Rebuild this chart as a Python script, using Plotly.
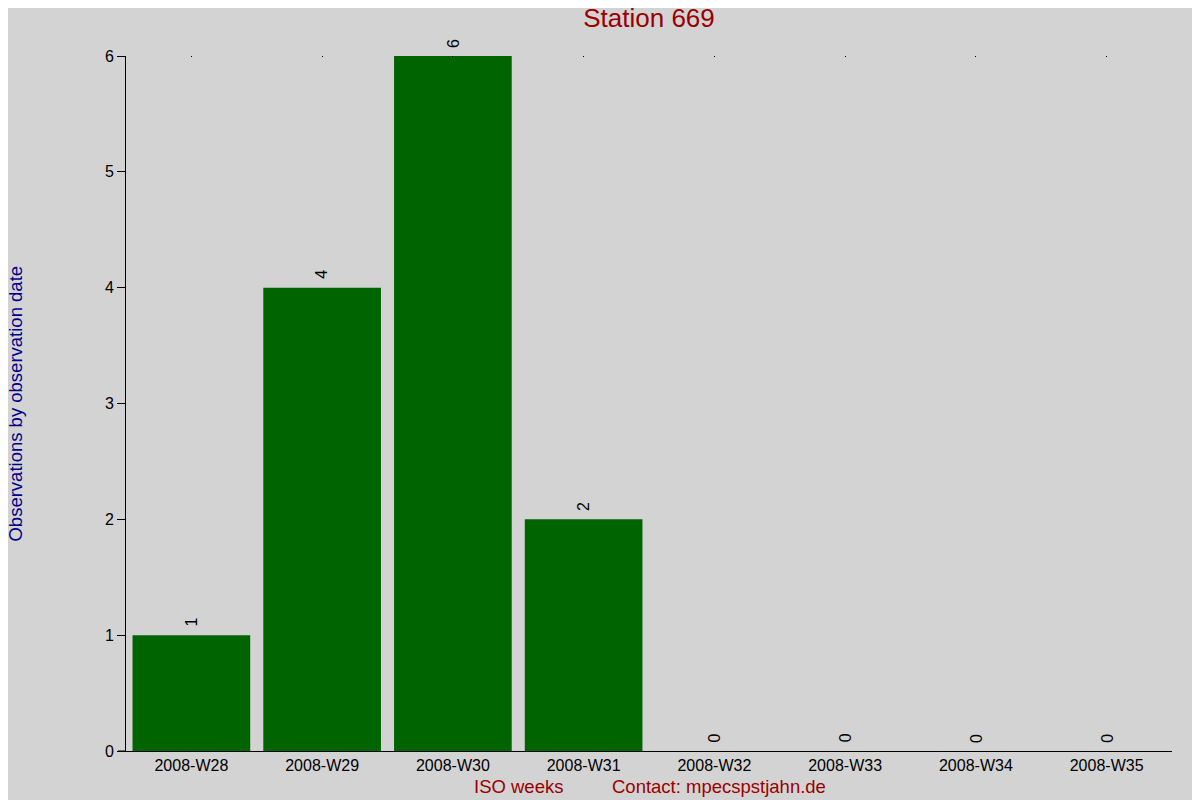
import plotly.graph_objects as go

# ISO weeks and observation counts for station 669
WEEKS = [
    "2008-W28", "2008-W29", "2008-W30", "2008-W31",
    "2008-W32", "2008-W33", "2008-W34", "2008-W35",
]
COUNTS = [1, 4, 6, 2, 0, 0, 0, 0]

TITLE = "Station 669"
Y_TITLE = "Observations by observation date"
X_TITLE = "ISO weeks"
CONTACT = "Contact: mpecspstjahn.de"

BG = "#d3d3d3"
BAR_COLOR = "#006400"
RED = "#990000"
BLUE = "#00008b"
FONT = "Liberation Sans, Arial, sans-serif"


def main():
    fig = go.Figure()

    # main bars
    fig.add_trace(
        go.Bar(
            x=WEEKS,
            y=COUNTS,
            marker=dict(color=BAR_COLOR, line=dict(width=0)),
            hoverinfo="x+y",
        )
    )

    # top axis just for the tiny tick dots along the top edge
    fig.add_trace(
        go.Scatter(x=WEEKS, y=COUNTS, xaxis="x2", mode="none", showlegend=False, hoverinfo="skip")
    )

    # rotated value labels sitting just above each bar
    for week, count in zip(WEEKS, COUNTS):
        fig.add_annotation(
            x=week, y=count, xref="x", yref="y",
            text=str(count), textangle=-90, showarrow=False,
            xanchor="center", yanchor="middle", yshift=13,
            font=dict(size=16, color="black"),
        )

    # the page body has an 8px margin, so the figure is 8px smaller than the window
    fig.update_layout(
        width=1192,
        height=792,
        paper_bgcolor=BG,
        plot_bgcolor=BG,
        showlegend=False,
        bargap=0.1,
        margin=dict(l=118, r=28, t=48, b=49, autoexpand=False),
        font=dict(family=FONT, size=16, color="black"),
        title=dict(
            text=TITLE,
            x=0.5,
            xref="paper",
            xanchor="center",
            y=0.987,
            yanchor="middle",
            font=dict(size=26, color=RED, family=FONT),
        ),
        xaxis=dict(
            type="category",
            showgrid=False,
            showline=True,
            linecolor="black",
            linewidth=1,
            ticks="",
            tickfont=dict(size=16, color="black"),
            zeroline=False,
            automargin=False,
        ),
        xaxis2=dict(
            type="category",
            overlaying="x",
            side="top",
            matches="x",
            showline=False,
            showgrid=False,
            ticks="inside",
            ticklen=1,
            tickcolor="black",
            showticklabels=False,
            automargin=False,
        ),
        yaxis=dict(
            range=[0, 6],
            dtick=1,
            showgrid=False,
            showline=True,
            linecolor="black",
            linewidth=1,
            ticks="outside",
            ticklen=8,
            tickcolor="black",
            tickfont=dict(size=16, color="black"),
            zeroline=False,
            automargin=False,
        ),
    )

    # y axis title
    fig.add_annotation(
        text=Y_TITLE, xref="paper", yref="paper", x=-0.1061, y=0.5,
        xanchor="center", yanchor="middle", textangle=-90, showarrow=False,
        font=dict(size=18.5, color=BLUE),
    )

    # x axis title and contact line below the axis
    fig.add_annotation(
        text=X_TITLE, xref="paper", yref="paper", x=0.3748, y=-0.0504,
        xanchor="center", yanchor="middle", showarrow=False,
        font=dict(size=18.5, color=RED),
    )
    fig.add_annotation(
        text=CONTACT, xref="paper", yref="paper", x=0.5669, y=-0.0504,
        xanchor="center", yanchor="middle", showarrow=False,
        font=dict(size=18.5, color=RED),
    )

    # extend baseline a little left past the y axis, like the reference
    fig.add_shape(
        type="line", xref="paper", yref="paper", x0=-0.0077, x1=0, y0=0, y1=0,
        line=dict(color="black", width=1),
    )

    fig.write_html("out.html")


if __name__ == "__main__":
    main()
